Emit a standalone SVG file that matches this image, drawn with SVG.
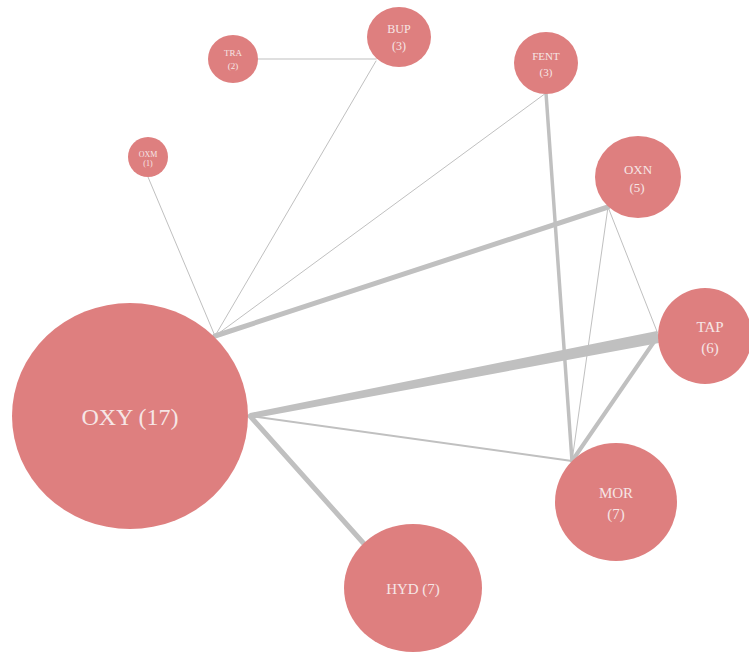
<svg xmlns="http://www.w3.org/2000/svg" width="749" height="652" viewBox="0 0 749 652">
<style>
.n{fill:#de7f7f}
.t{font-family:"Liberation Serif",serif;fill:#f6e6e6;text-anchor:middle}
.e{stroke:#c0c0c0;fill:none;stroke-linecap:round}
</style>
<rect width="749" height="652" fill="#fff"/>
<g id="edges">
<line class="e" x1="148" y1="177" x2="215" y2="336" stroke-width="1"/>
<line class="e" x1="376" y1="61" x2="215" y2="336" stroke-width="1"/>
<line class="e" x1="258" y1="59" x2="376" y2="59" stroke-width="1.2"/>
<line class="e" x1="546" y1="93" x2="215" y2="336" stroke-width="1"/>
<line class="e" x1="608" y1="207" x2="215" y2="336" stroke-width="5"/>
<line class="e" x1="546" y1="93" x2="572" y2="461" stroke-width="3.5"/>
<line class="e" x1="608" y1="207" x2="572" y2="461" stroke-width="1"/>
<line class="e" x1="608" y1="207" x2="658" y2="334" stroke-width="1"/>
<polygon fill="#c0c0c0" points="250,413 657,331 659,343 250,419"/>
<line class="e" x1="658" y1="336" x2="572" y2="461" stroke-width="4"/>
<line class="e" x1="250" y1="416" x2="572" y2="461" stroke-width="2"/>
<line class="e" x1="250" y1="416" x2="366" y2="546" stroke-width="5"/>
</g>
<g id="OXY"><ellipse class="n" cx="130" cy="416" rx="118" ry="113"/><text class="t" x="130" y="425" font-size="24">OXY (17)</text></g>
<g id="HYD"><ellipse class="n" cx="413" cy="588" rx="69" ry="64"/><text class="t" x="413" y="594" font-size="15">HYD (7)</text></g>
<g id="MOR"><ellipse class="n" cx="616" cy="502" rx="61" ry="59"/><text class="t" x="616" y="498" font-size="15">MOR</text><text class="t" x="616" y="519" font-size="15">(7)</text></g>
<g id="TAP"><ellipse class="n" cx="705" cy="336" rx="47" ry="48"/><text class="t" x="710" y="332" font-size="15">TAP</text><text class="t" x="710" y="353" font-size="15">(6)</text></g>
<g id="OXN"><ellipse class="n" cx="638" cy="177" rx="43" ry="41"/><text class="t" x="638" y="174" font-size="13">OXN</text><text class="t" x="637" y="192" font-size="13">(5)</text></g>
<g id="FENT"><ellipse class="n" cx="546" cy="63" rx="32" ry="31"/><text class="t" x="546" y="60" font-size="11">FENT</text><text class="t" x="546" y="76" font-size="11">(3)</text></g>
<g id="BUP"><ellipse class="n" cx="399" cy="37" rx="32" ry="30"/><text class="t" x="399" y="33" font-size="12">BUP</text><text class="t" x="399" y="50" font-size="12">(3)</text></g>
<g id="TRA"><ellipse class="n" cx="233" cy="59" rx="25" ry="24"/><text class="t" x="233" y="56" font-size="9">TRA</text><text class="t" x="233" y="69" font-size="9">(2)</text></g>
<g id="OXM"><ellipse class="n" cx="148" cy="157" rx="20" ry="20"/><text class="t" x="148" y="157" font-size="8">OXM</text><text class="t" x="148" y="166" font-size="8">(1)</text></g>
</svg>
